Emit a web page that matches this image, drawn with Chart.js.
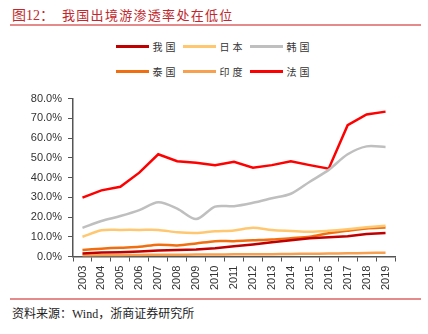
<!DOCTYPE html>
<html>
<head>
<meta charset="utf-8">
<script src="https://cdn.jsdelivr.net/npm/chart.js@4.4.1/dist/chart.umd.min.js"></script>
<style>
  body { margin: 0; width: 428px; height: 334px; background: #fff; position: relative; overflow: hidden; }
  #title { position: absolute; left: 12px; top: 4px; font-size: 14px; color: #C0282D; white-space: nowrap;
           font-family: "Liberation Serif", "Noto Sans CJK SC", serif; }
  #title .zh { font-family: "Noto Sans CJK SC", sans-serif; font-size: 13px; letter-spacing: 1.3px; margin-left: 8px; }
  .rule { position: absolute; left: 10px; width: 411px; height: 1.5px; background: #E58A8A; }
  #legend { position: absolute; left: 0; top: 34px; width: 428px; }
  .lrow { display: flex; justify-content: center; height: 25px; align-items: center; }
  .litem { display: flex; align-items: center; margin: 0 2px; }
  .lline { width: 33px; height: 3px; margin-right: 4px; }
  .ltext { font-family: "Noto Sans CJK SC", sans-serif; font-size: 10px; color: #333; letter-spacing: 3px;
           width: 26px; white-space: nowrap; }
  #wrap { position: absolute; left: 0; top: 86px; width: 428px; height: 208px; }
  #source { position: absolute; left: 12px; top: 304px; font-size: 12px; color: #222; white-space: nowrap;
            font-family: "Liberation Serif", "Noto Sans CJK SC", serif; }
</style>
</head>
<body>
<div id="title">图12：<span class="zh">我国出境游渗透率处在低位</span></div>
<div class="rule" style="top:24px"></div>
<div id="legend"></div>
<div id="wrap"><canvas id="chart"></canvas></div>
<div class="rule" style="top:298px"></div>
<div id="source">资料来源：Wind，浙商证券研究所</div>
<script>
const years = ['2003','2004','2005','2006','2007','2008','2009','2010','2011','2012','2013','2014','2015','2016','2017','2018','2019'];
const names = ['我国', '日本', '韩国', '泰国', '印度', '法国'];
const colors = ['#C00000', '#FFC870', '#BFBFBF', '#F06E10', '#F7A050', '#FF0000'];

// penetration rate, %
const china    = [1.5, 2.0, 2.2, 2.5, 3.0, 3.3, 3.5, 4.2, 5.2, 6.1, 7.2, 8.3, 9.3, 9.8, 10.3, 11.4, 11.9];
const japan    = [10.0, 13.3, 13.5, 13.5, 13.5, 12.3, 11.9, 12.8, 13.2, 14.6, 13.4, 12.9, 12.5, 13.0, 13.8, 14.8, 15.6];
const korea    = [14.5, 18.0, 20.5, 23.5, 27.5, 24.3, 19.0, 25.3, 25.5, 27.2, 29.5, 31.8, 37.9, 43.9, 51.8, 55.8, 55.5];
const thailand = [3.3, 4.0, 4.5, 4.9, 6.0, 5.6, 6.6, 7.8, 7.8, 8.2, 8.6, 9.3, 10.0, 11.8, 13.1, 14.2, 14.7];
const india    = [0.5, 0.6, 0.7, 0.8, 0.9, 0.9, 1.0, 1.0, 1.1, 1.1, 1.2, 1.3, 1.4, 1.5, 1.6, 1.8, 1.9];
const france   = [29.8, 33.5, 35.3, 42.5, 51.8, 48.3, 47.5, 46.2, 48.0, 45.0, 46.3, 48.3, 46.3, 44.5, 66.5, 72.0, 73.4];

const series = [china, japan, korea, thailand, india, france];
const smooth = [0, 0.3, 0.3, 0.3, 0.3, 0];

// html legend, three per row like the original
const legend = document.getElementById('legend');
[[0, 1, 2], [3, 4, 5]].forEach(row => {
  const r = document.createElement('div');
  r.className = 'lrow';
  row.forEach(i => {
    const it = document.createElement('div');
    it.className = 'litem';
    it.innerHTML = '<div class="lline" style="background:' + colors[i] + '"></div><div class="ltext">' + names[i] + '</div>';
    r.appendChild(it);
  });
  legend.appendChild(r);
});

const ctx = document.getElementById('chart').getContext('2d');
new Chart(ctx, {
  type: 'line',
  data: {
    labels: years,
    datasets: series.map((d, i) => ({
      label: names[i],
      data: d,
      borderColor: colors[i],
      backgroundColor: colors[i],
      borderWidth: 2.5,
      pointRadius: 0,
      tension: smooth[i],
      fill: false
    }))
  },
  options: {
    responsive: true,
    maintainAspectRatio: false,
    animation: false,
    layout: { padding: { left: 0, right: 33, top: 7, bottom: 0 } },
    plugins: { legend: { display: false }, tooltip: { enabled: false } },
    scales: {
      x: {
        offset: true,
        grid: { offset: true, drawOnChartArea: false, drawTicks: true, tickLength: 5, color: '#555', lineWidth: 1 },
        border: { display: true, color: '#555', width: 1.5 },
        ticks: {
          minRotation: 90, maxRotation: 90, padding: 4, autoSkip: false,
          color: '#333', font: { family: 'Liberation Sans', size: 11 }
        }
      },
      y: {
        min: 0, max: 80,
        afterFit: s => { s.width = 73; },
        grid: { drawOnChartArea: false, drawTicks: true, tickLength: 5, color: '#555', lineWidth: 1 },
        border: { display: true, color: '#555', width: 1.5 },
        ticks: {
          stepSize: 10, padding: 6, color: '#333',
          font: { family: 'Liberation Sans', size: 11 },
          callback: v => v.toFixed(1) + '%'
        }
      }
    }
  }
});
</script>
</body>
</html>
